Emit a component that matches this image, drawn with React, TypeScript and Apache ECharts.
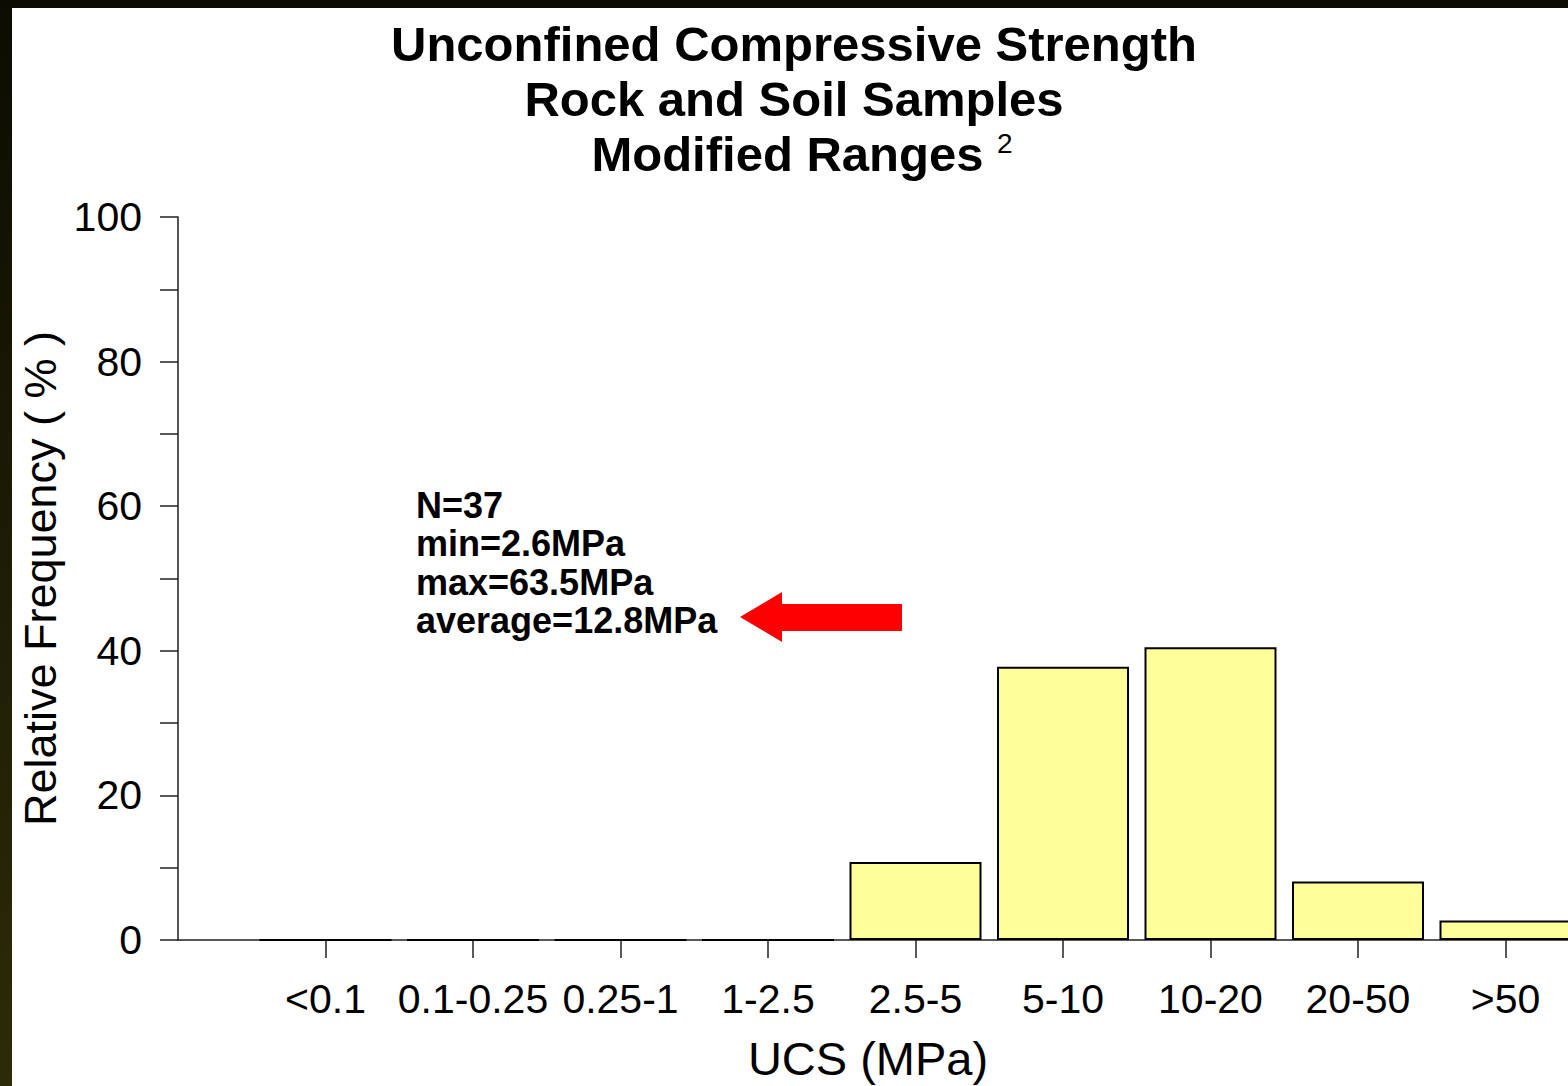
import React, { useEffect, useRef } from "react";
import * as echarts from "echarts";

const categories = ["<0.1", "0.1-0.25", "0.25-1", "1-2.5", "2.5-5", "5-10", "10-20", "20-50", ">50"];
const frequencies = [0, 0, 0, 0, 10.8, 37.8, 40.5, 8.1, 2.7];
const yTicks = [0, 20, 40, 60, 80, 100];
const titleLines = ["Unconfined Compressive Strength", "Rock and Soil Samples", "Modified Ranges"];
const statsLines = ["N=37", "min=2.6MPa", "max=63.5MPa", "average=12.8MPa"];

const FONT = "'Liberation Sans', Arial, sans-serif";

export default function App() {
  const ref = useRef<HTMLDivElement>(null);
  useEffect(() => {
    if (!ref.current) return;
    const chart = echarts.init(ref.current, null, { renderer: "svg" });
    const positions = categories.map((_, i) => i + 1);
    chart.setOption({
      animation: false,
      backgroundColor: "transparent",
      textStyle: { fontFamily: FONT },
      grid: { left: 178, top: 217, width: 1475, height: 723, outerBoundsMode: "none", containLabel: false },
      xAxis: {
        type: "value",
        min: 0,
        max: 10,
        interval: 1,
        axisLine: { show: true, lineStyle: { color: "#222", width: 1.5 } },
        axisTick: { show: true, length: 18, lineStyle: { color: "#222", width: 1.5 }, customValues: positions },
        axisLabel: {
          customValues: positions,
          formatter: (v: number) => categories[Math.round(v) - 1] ?? "",
          color: "#000",
          fontSize: 41,
          fontFamily: FONT,
          margin: 38,
        },
        splitLine: { show: false },
      },
      yAxis: {
        type: "value",
        min: 0,
        max: 100,
        interval: 10,
        name: "Relative Frequency ( % )",
        nameLocation: "middle",
        nameGap: 114,
        nameTextStyle: { fontSize: 45, color: "#000", fontFamily: FONT },
        axisLine: { show: true, lineStyle: { color: "#222", width: 1.5 } },
        axisTick: { show: true, length: 18, lineStyle: { color: "#222", width: 1.5 } },
        axisLabel: {
          formatter: (v: number) => (yTicks.includes(v) ? String(v) : ""),
          color: "#000",
          fontSize: 41,
          fontFamily: FONT,
          margin: 36,
        },
        splitLine: { show: false },
      },
      series: [
        {
          type: "bar",
          barWidth: 132,
          data: frequencies.map((v, i) => [positions[i], v]),
          itemStyle: { color: "#fefe9a", borderColor: "#000", borderWidth: 2 },
          clip: false,
        },
      ],
      graphic: [
        {
          type: "text", x: 794, y: 44,
          style: { text: titleLines[0], align: "center", verticalAlign: "middle", fontSize: 49, fontWeight: "bold", fontFamily: FONT, fill: "#000" },
        },
        {
          type: "text", x: 794, y: 99,
          style: { text: titleLines[1], align: "center", verticalAlign: "middle", fontSize: 49, fontWeight: "bold", fontFamily: FONT, fill: "#000" },
        },
        {
          type: "text", x: 802, y: 154,
          style: {
            text: titleLines[2] + " {sup|2}",
            align: "center", verticalAlign: "middle", fontSize: 49, fontWeight: "bold", fontFamily: FONT, fill: "#000",
            rich: { sup: { fontSize: 28, fontWeight: "normal", verticalAlign: "top", fontFamily: FONT, fill: "#000", padding: [0, 0, 18, 0] } },
          },
        },
        ...statsLines.map((t, i) => ({
          type: "text", x: 416, y: 505 + i * 38.5,
          style: { text: t, align: "left", verticalAlign: "middle", fontSize: 36, fontWeight: "bold", fontFamily: FONT, fill: "#000" },
        })),
        {
          type: "polygon",
          shape: { points: [[740, 617], [782, 592], [782, 604], [902, 604], [902, 631], [782, 631], [782, 642]] },
          style: { fill: "#ff0000" },
        },
        {
          type: "text", x: 868, y: 1058,
          style: { text: "UCS (MPa)", align: "center", verticalAlign: "middle", fontSize: 47, fontFamily: FONT, fill: "#000" },
        },
      ],
    });
    return () => chart.dispose();
  }, []);
  return (
    <div
      style={{
        position: "fixed", left: 0, top: 0, width: 1568, height: 1086, overflow: "hidden",
        background: "linear-gradient(180deg, #0c0c02 0%, #2e2b08 100%)",
      }}
    >
      <div style={{ position: "absolute", left: 12, top: 8, width: 1700, height: 1086, background: "#fff" }} />
      <div ref={ref} style={{ position: "absolute", left: 0, top: 0, width: 1700, height: 1086 }} />
    </div>
  );
}
